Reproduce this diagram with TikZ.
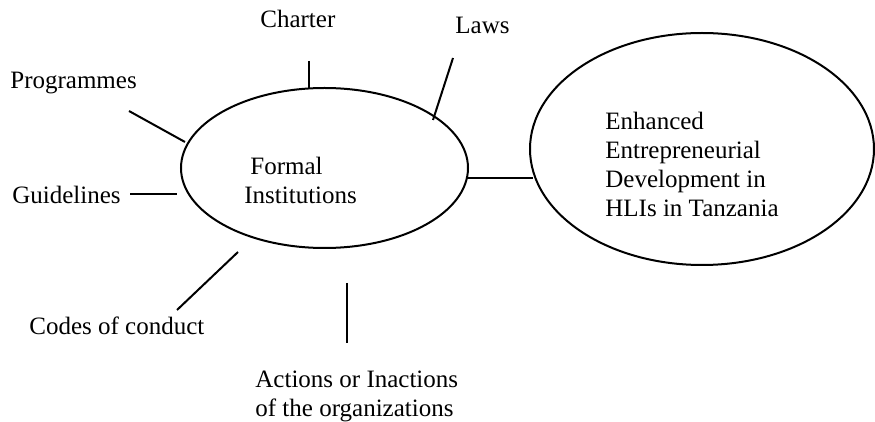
\documentclass[tikz,border=0pt]{standalone}
\usepackage{fontspec}
\setmainfont{Liberation Serif}
\usetikzlibrary{shapes.geometric}
\begin{document}
\begin{tikzpicture}[x=0.5pt,y=-0.5pt,
  line/.style={line width=1pt, line cap=butt},
  oval/.style={draw, ellipse, line width=1pt, inner sep=0pt},
  lbl/.style={anchor=base west, inner sep=0pt, align=left, font=\fontsize{12.5}{14.5}\selectfont}]
\useasboundingbox (0,0) rectangle (875,422);
\clip (0,0) rectangle (875,422);
% ellipses
\node[oval, minimum width=143.5pt, minimum height=80pt] (fi) at (324.5,168) {};
\node[oval, minimum width=172pt, minimum height=116pt] (ed) at (702,149) {};
% texts (multi-line nodes: base = baseline of last line)
\node[lbl] (charter) at (260,28) {Charter};
\node[lbl] (laws) at (455,34) {Laws};
\node[lbl] (prog) at (10,89) {Programmes};
\node[lbl] (guide) at (12,204) {Guidelines};
\node[lbl] (formal) at (250,175) {Formal};
\node[lbl] (inst) at (244,204) {Institutions};
\node[lbl] (codes) at (29,335) {Codes of conduct};
\node[lbl] (actions) at (255,417) {Actions or Inactions\\of the organizations};
\node[lbl] (enh) at (605,217) {Enhanced\\Entrepreneurial\\Development in\\HLIs in Tanzania};
% connector end points
\coordinate (ch1) at (309,61);  \coordinate (ch2) at (309,88);
\coordinate (la1) at (453,58);  \coordinate (la2) at (433,120);
\coordinate (pr1) at (129,111); \coordinate (pr2) at (185,142);
\coordinate (gu1) at (130,194); \coordinate (gu2) at (177,194);
\coordinate (co1) at (238,252); \coordinate (co2) at (177,310);
\coordinate (ac1) at (347,283); \coordinate (ac2) at (347,343);
\coordinate (fe) at (467,178);  \coordinate (ew) at (533,178);
\draw[line] (ch1) -- (ch2);
\draw[line] (la1) -- (la2);
\draw[line] (pr1) -- (pr2);
\draw[line] (gu1) -- (gu2);
\draw[line] (co1) -- (co2);
\draw[line] (ac1) -- (ac2);
\draw[line] (fe) -- (ew);
\end{tikzpicture}
\end{document}
